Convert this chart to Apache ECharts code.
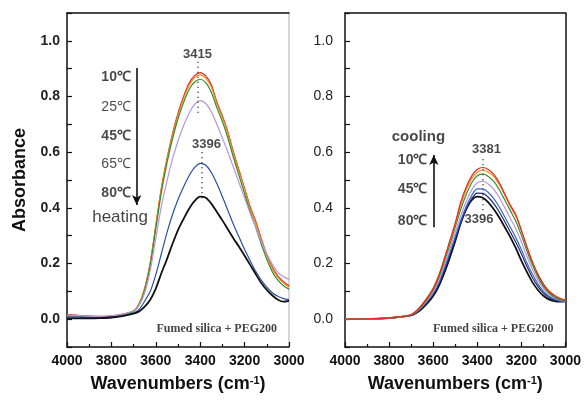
<!DOCTYPE html>
<html>
<head>
<meta charset="utf-8">
<script src="https://cdn.jsdelivr.net/npm/echarts@6/dist/echarts.min.js"></script>
<style>
html, body { margin: 0; background: #fff; }
#chart-container { width: 584px; height: 402px; }
</style>
</head>
<body>
<div id="chart-container"></div>
<script>
var dom = document.getElementById("chart-container");
var myChart = echarts.init(dom, null, { renderer: "canvas" });

// wavenumbers (cm-1) shared by every spectrum
var wavenumbers = [4000, 3950, 3900, 3850, 3800, 3750, 3700, 3675, 3650, 3625, 3600, 3575, 3550, 3525, 3500, 3475, 3450, 3425, 3400, 3375, 3350, 3325, 3300, 3275, 3250, 3225, 3200, 3175, 3150, 3125, 3100, 3075, 3050, 3025, 3000];

// heating spectra (left panel)
var heatRed    = [0.016, 0.014, 0.011, 0.010, 0.012, 0.018, 0.030, 0.055, 0.110, 0.200, 0.335, 0.470, 0.575, 0.665, 0.740, 0.800, 0.848, 0.875, 0.886, 0.874, 0.842, 0.780, 0.730, 0.672, 0.600, 0.535, 0.470, 0.405, 0.352, 0.290, 0.232, 0.186, 0.155, 0.135, 0.120];
var heatOrange = [0.014, 0.013, 0.010, 0.009, 0.011, 0.017, 0.030, 0.056, 0.112, 0.205, 0.338, 0.470, 0.572, 0.660, 0.733, 0.793, 0.840, 0.868, 0.878, 0.866, 0.834, 0.775, 0.725, 0.666, 0.595, 0.530, 0.465, 0.400, 0.345, 0.285, 0.228, 0.182, 0.150, 0.130, 0.116];
var heatGreen  = [0.012, 0.011, 0.009, 0.008, 0.010, 0.015, 0.028, 0.052, 0.105, 0.195, 0.325, 0.455, 0.560, 0.647, 0.720, 0.778, 0.825, 0.852, 0.862, 0.850, 0.815, 0.760, 0.710, 0.650, 0.580, 0.515, 0.450, 0.387, 0.330, 0.270, 0.215, 0.170, 0.140, 0.120, 0.108];
var heatViolet = [0.014, 0.013, 0.011, 0.010, 0.012, 0.018, 0.030, 0.050, 0.095, 0.175, 0.290, 0.405, 0.495, 0.575, 0.640, 0.695, 0.740, 0.772, 0.785, 0.775, 0.745, 0.700, 0.650, 0.600, 0.545, 0.490, 0.435, 0.380, 0.330, 0.280, 0.235, 0.197, 0.168, 0.152, 0.143];
var heatBlue   = [0.008, 0.007, 0.006, 0.006, 0.008, 0.012, 0.022, 0.035, 0.065, 0.100, 0.160, 0.235, 0.310, 0.375, 0.430, 0.475, 0.515, 0.545, 0.560, 0.553, 0.527, 0.487, 0.440, 0.390, 0.340, 0.295, 0.250, 0.210, 0.172, 0.140, 0.115, 0.095, 0.082, 0.074, 0.070];
var heatBlack  = [0.003, 0.003, 0.003, 0.004, 0.006, 0.011, 0.020, 0.028, 0.045, 0.070, 0.110, 0.165, 0.215, 0.270, 0.320, 0.360, 0.397, 0.425, 0.440, 0.436, 0.415, 0.385, 0.355, 0.322, 0.290, 0.260, 0.228, 0.195, 0.162, 0.130, 0.105, 0.085, 0.070, 0.063, 0.066];

// cooling spectra (right panel)
var coolRed    = [0.000, 0.000, 0.001, 0.002, 0.004, 0.008, 0.016, 0.030, 0.052, 0.078, 0.110, 0.155, 0.215, 0.280, 0.345, 0.420, 0.475, 0.515, 0.538, 0.545, 0.538, 0.520, 0.490, 0.450, 0.410, 0.375, 0.320, 0.260, 0.205, 0.160, 0.125, 0.100, 0.085, 0.074, 0.068];
var coolOrange = [0.000, 0.000, 0.001, 0.002, 0.004, 0.008, 0.017, 0.031, 0.054, 0.080, 0.112, 0.157, 0.215, 0.278, 0.342, 0.410, 0.465, 0.505, 0.528, 0.535, 0.528, 0.512, 0.483, 0.445, 0.405, 0.370, 0.318, 0.260, 0.207, 0.162, 0.127, 0.102, 0.086, 0.075, 0.069];
var coolGreen  = [0.000, 0.000, 0.001, 0.002, 0.004, 0.008, 0.016, 0.029, 0.050, 0.075, 0.105, 0.148, 0.205, 0.266, 0.330, 0.395, 0.448, 0.490, 0.515, 0.522, 0.513, 0.495, 0.465, 0.428, 0.390, 0.352, 0.302, 0.246, 0.195, 0.152, 0.118, 0.095, 0.080, 0.071, 0.067];
var coolViolet = [0.000, 0.000, 0.001, 0.002, 0.004, 0.008, 0.015, 0.027, 0.047, 0.070, 0.098, 0.138, 0.192, 0.250, 0.310, 0.372, 0.423, 0.465, 0.490, 0.495, 0.486, 0.466, 0.437, 0.400, 0.362, 0.325, 0.278, 0.226, 0.180, 0.140, 0.110, 0.090, 0.077, 0.069, 0.066];
var coolBlue   = [0.000, 0.000, 0.001, 0.002, 0.004, 0.008, 0.015, 0.026, 0.044, 0.066, 0.093, 0.130, 0.182, 0.238, 0.296, 0.355, 0.405, 0.445, 0.468, 0.468, 0.455, 0.433, 0.403, 0.367, 0.330, 0.293, 0.250, 0.203, 0.162, 0.127, 0.100, 0.083, 0.072, 0.066, 0.065];
var coolNavy   = [0.000, 0.000, 0.001, 0.002, 0.004, 0.008, 0.015, 0.025, 0.042, 0.063, 0.089, 0.125, 0.175, 0.230, 0.287, 0.345, 0.395, 0.433, 0.453, 0.452, 0.438, 0.415, 0.385, 0.350, 0.313, 0.276, 0.235, 0.190, 0.150, 0.118, 0.094, 0.078, 0.069, 0.065, 0.064];
var coolBlack  = [0.000, 0.000, 0.001, 0.002, 0.004, 0.008, 0.014, 0.023, 0.038, 0.058, 0.083, 0.118, 0.165, 0.220, 0.280, 0.345, 0.395, 0.428, 0.440, 0.436, 0.420, 0.395, 0.365, 0.330, 0.295, 0.255, 0.210, 0.170, 0.133, 0.105, 0.084, 0.071, 0.065, 0.063, 0.064];

var heatSeries = [heatRed, heatOrange, heatGreen, heatViolet, heatBlue, heatBlack];
var heatColors = ["#e3261f", "#ef8a1c", "#2f8f2f", "#b894d8", "#2a4ea6", "#111111"];
var coolSeries = [coolBlack, coolNavy, coolBlue, coolViolet, coolGreen, coolOrange, coolRed];
var coolColors = ["#111111", "#1c2a78", "#3a66c4", "#b894d8", "#2f8f2f", "#ef8a1c", "#e3261f"];

// annotation texts
var heatTemps = ["10℃", "25℃", "45℃", "65℃", "80℃"];
var heatTempBold = [true, false, true, false, true];
var coolTemps = ["10℃", "45℃", "80℃"];
var peakLabelsHeat = ["3415", "3396"];
var peakLabelsCool = ["3381", "3396"];
var sampleName = "Fumed silica + PEG200";

var font = "'Liberation Sans', Arial, sans-serif";

function toPoints(arr) {
  return wavenumbers.map(function (w, i) { return [w, arr[i]]; });
}

function yLabel(v) {
  var r = Math.round(v * 10);
  return (r % 2 === 0 && r >= 0 && r <= 10) ? (r / 10).toFixed(1) : "";
}

var xName = "Wavenumbers (cm{sup|-1})";
var xNameStyle = {
  fontFamily: font, fontSize: 18, fontWeight: "bold", color: "#111",
  rich: { sup: { fontFamily: font, fontSize: 11, fontWeight: "bold", color: "#111", verticalAlign: "top", lineHeight: 14 } }
};

function mainX(grid) {
  return {
    type: "value", gridIndex: grid, min: 3000, max: 4000, interval: 200, inverse: true,
    name: xName, nameLocation: "middle", nameGap: 28, nameTextStyle: xNameStyle,
    axisLine: { onZero: false, lineStyle: { color: "#111", width: 1.5 } },
    axisTick: { inside: true, length: 5, lineStyle: { color: "#111", width: 1.2 } },
    minorTick: { show: true, splitNumber: 2, length: 3, lineStyle: { color: "#111", width: 1.2 } },
    axisLabel: {
      fontFamily: font, fontSize: 14, fontWeight: "bold", color: "#111", margin: 7,
      showMinLabel: true, showMaxLabel: true,
      formatter: function (v) { return String(v); }
    },
    splitLine: { show: false }
  };
}
function frameX(grid) {
  return {
    type: "value", gridIndex: grid, min: 3000, max: 4000, position: "top",
    axisLine: { onZero: false, lineStyle: { color: "#111", width: 1.5 } },
    axisTick: { show: false }, axisLabel: { show: false }, splitLine: { show: false }
  };
}
function mainY(grid, bold, margin, name) {
  return {
    type: "value", gridIndex: grid, min: -0.1, max: 1.1, interval: 0.1,
    name: name, nameLocation: "middle", nameGap: 38,
    nameTextStyle: { fontFamily: font, fontSize: 18, fontWeight: "bold", color: "#111" },
    axisLine: { onZero: false, lineStyle: { color: "#111", width: 1.5 } },
    axisTick: { inside: true, length: 5, lineStyle: { color: "#111", width: 1.2 } },
    axisLabel: { fontFamily: font, fontSize: 14, fontWeight: bold ? "bold" : "normal", color: "#222", margin: margin, formatter: yLabel },
    splitLine: { show: false }
  };
}
function frameY(grid, color) {
  return {
    type: "value", gridIndex: grid, min: -0.1, max: 1.1, position: "right",
    axisLine: { onZero: false, lineStyle: { color: color, width: 1.5 } },
    axisTick: { show: false }, axisLabel: { show: false }, splitLine: { show: false }
  };
}

function textItem(x, y, text, opts) {
  return {
    value: [x, y],
    label: Object.assign({
      show: true, formatter: text, position: [0, 0], align: "center", verticalAlign: "middle",
      fontFamily: font, fontSize: 13, fontWeight: "bold", color: "#1a1a1a"
    }, opts || {})
  };
}

var series = [];
heatSeries.forEach(function (arr, i) {
  series.push({
    type: "line", xAxisIndex: 0, yAxisIndex: 0, data: toPoints(arr), smooth: 0.3,
    showSymbol: false, lineStyle: { color: heatColors[i], width: heatColors[i] === "#111111" ? 1.8 : 1.2 }
  });
});
coolSeries.forEach(function (arr, i) {
  series.push({
    type: "line", xAxisIndex: 2, yAxisIndex: 2, data: toPoints(arr), smooth: 0.3,
    showSymbol: false, lineStyle: { color: coolColors[i], width: coolColors[i] === "#111111" ? 1.8 : 1.2 }
  });
});

var dotted = { type: [1, 4], color: "#333", width: 1.6 };
var arrowStyle = { type: "solid", color: "#111", width: 1.6 };

// left panel annotations
var heatTempY = [0.871, 0.763, 0.656, 0.556, 0.452];
var heatText = heatTemps.map(function (t, i) {
  return textItem(3712, heatTempY[i], t, { align: "right", fontWeight: heatTempBold[i] ? "bold" : "normal", fontSize: 14 });
});
heatText.push(textItem(3761, 0.366, "heating", { fontWeight: "normal", fontSize: 17, color: "#111" }));
heatText.push(textItem(3412, 0.95, peakLabelsHeat[0], { fontSize: 13 }));
heatText.push(textItem(3372, 0.627, peakLabelsHeat[1], { fontSize: 13 }));
heatText.push(textItem(3054, -0.036, sampleName, { align: "right", fontFamily: "'Liberation Serif', 'Times New Roman', serif", fontSize: 12, color: "#111" }));

series.push({
  type: "scatter", xAxisIndex: 0, yAxisIndex: 0, symbolSize: 0, silent: true,
  itemStyle: { color: "transparent" }, data: heatText,
  markLine: {
    silent: true, symbol: "none", label: { show: false },
    data: [
      [{ coord: [3410, 0.925], lineStyle: dotted }, { coord: [3410, 0.73] }],
      [{ coord: [3393, 0.60], lineStyle: dotted }, { coord: [3393, 0.42] }],
      [{ coord: [3686, 0.902], lineStyle: arrowStyle, symbol: "none" }, { coord: [3686, 0.41], symbol: "arrow", symbolSize: [7, 10] }]
    ]
  }
});

// right panel annotations
var coolTempY = [0.573, 0.466, 0.351];
var coolText = coolTemps.map(function (t, i) {
  return textItem(3626, coolTempY[i], t, { align: "right", fontSize: 14 });
});
coolText.push(textItem(3667, 0.656, "cooling", { fontSize: 15 }));
coolText.push(textItem(3358, 0.609, peakLabelsCool[0], { fontSize: 13 }));
coolText.push(textItem(3392, 0.358, peakLabelsCool[1], { fontSize: 13 }));
coolText.push(textItem(3054, -0.036, sampleName, { align: "right", fontFamily: "'Liberation Serif', 'Times New Roman', serif", fontSize: 12, color: "#111" }));

series.push({
  type: "scatter", xAxisIndex: 2, yAxisIndex: 2, symbolSize: 0, silent: true,
  itemStyle: { color: "transparent" }, data: coolText,
  markLine: {
    silent: true, symbol: "none", label: { show: false },
    data: [
      [{ coord: [3377, 0.575], lineStyle: dotted }, { coord: [3377, 0.385] }],
      [{ coord: [3597, 0.33], lineStyle: arrowStyle, symbol: "none" }, { coord: [3597, 0.59], symbol: "arrow", symbolSize: [7, 10] }]
    ]
  }
});

var option = {
  animation: false,
  backgroundColor: "#fff",
  grid: [
    { left: 67, top: 13, width: 222, height: 334 },
    { left: 345, top: 13, width: 222, height: 334 }
  ],
  xAxis: [mainX(0), frameX(0), mainX(1), frameX(1)],
  yAxis: [mainY(0, true, 7, "Absorbance"), frameY(0, "#c8c8c8"), mainY(1, false, 12, ""), frameY(1, "#111")],
  series: series
};

myChart.setOption(option);
window.addEventListener("resize", myChart.resize);
</script>
</body>
</html>
